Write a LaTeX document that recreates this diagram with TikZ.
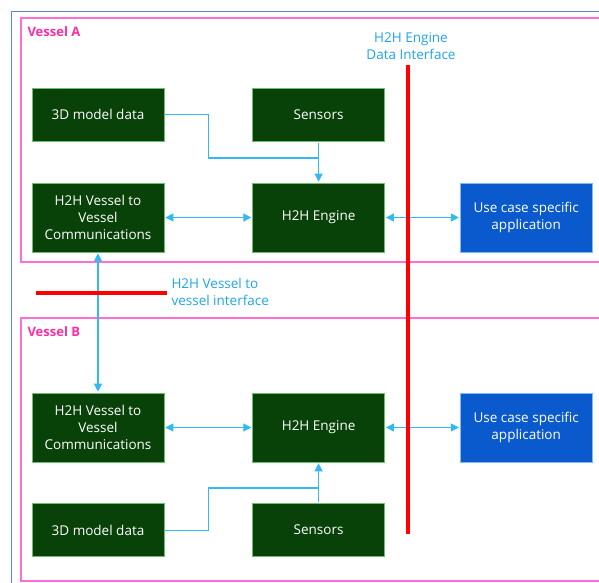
\documentclass[tikz,border=0pt]{standalone}
\usepackage{fontspec}
\setmainfont{Open Sans}
\usetikzlibrary{arrows.meta,positioning}

\definecolor{boxgreen}{RGB}{8,66,8}
\definecolor{edgegreen}{RGB}{110,190,110}
\definecolor{boxblue}{RGB}{10,90,205}
\definecolor{edgeblue}{RGB}{120,190,250}
\definecolor{linkcyan}{RGB}{50,185,245}
\definecolor{labelcyan}{RGB}{30,165,230}
\definecolor{framepink}{RGB}{255,110,215}
\definecolor{vesselpink}{RGB}{255,45,165}
\definecolor{outerblue}{RGB}{95,135,200}

\begin{document}
\begin{tikzpicture}[x=1pt,y=-1pt,>={Triangle[length=8pt,width=8pt]},
  green node/.style={rectangle,fill=boxgreen,draw=edgegreen,line width=0.6pt,text=white,
    minimum width=132pt,minimum height=69pt,align=center,inner sep=2pt,
    font=\fontsize{13.5}{17}\selectfont},
  short node/.style={green node,minimum height=53pt},
  app node/.style={green node,fill=boxblue,draw=edgeblue},
  link/.style={draw=linkcyan,line width=1.1pt,shorten >=1pt,shorten <=1pt},
  iface/.style={draw=red,line width=3.2pt},
  iface label/.style={text=labelcyan,font=\fontsize{13.5}{16.5}\selectfont},
  vessel label/.style={text=vesselpink,anchor=west,font=\fontsize{13}{15}\selectfont\bfseries}]
  \clip (0,0) rectangle (599,582);
  % frames
  \draw[outerblue,line width=1.5pt] (11.5,11.5) rectangle (640,640);
  \draw[framepink,line width=1.2pt] (21,18) rectangle (640,262);
  \draw[framepink,line width=1.2pt] (21,318) rectangle (640,581);
  \node[vessel label] (va) at (24,32) {Vessel A};
  \node[vessel label] (vb) at (24,332) {Vessel B};

  % vessel A
  \node[green node] (vva) at (98,217.5) {H2H Vessel to\\Vessel\\Communications};
  \node[short node] (mda) [above=41pt of vva] {3D model data};
  \node[green node] (enga) [right=88pt of vva] {H2H Engine};
  \node[short node] (sna) [above=41pt of enga] {Sensors};
  \node[app node] (usea) [right=75pt of enga] {Use case specific\\application};

  % vessel B
  \node[green node] (vvb) at (98,427.5) {H2H Vessel to\\Vessel\\Communications};
  \node[short node] (mdb) [below=41pt of vvb] {3D model data};
  \node[green node] (engb) [right=88pt of vvb] {H2H Engine};
  \node[short node] (snb) [below=41pt of engb] {Sensors};
  \node[app node] (useb) [right=75pt of engb] {Use case specific\\application};

  \coordinate (joina) at (318,158);
  \coordinate (joinb) at (318,488);
  \path[every edge/.append style={link,<->}]
    (vva) edge (enga)
    (enga) edge (usea)
    (vva) edge (vvb)
    (vvb) edge (engb)
    (engb) edge (useb);
  \draw[link,->] (sna) -- (enga);
  \draw[link,->] (snb) -- (engb);
  \draw[link,shorten >=0pt] (mda.east) -- ++(44,0) |- (joina);
  \draw[link,shorten >=0pt] (mdb.east) -- ++(44,0) |- (joinb);

  % interfaces
  \node[iface label,align=center] (dil) at (411,46) {H2H Engine\\Data Interface};
  \draw[iface] (408,65) -- (408,534);
  \node[iface label,align=left,anchor=west] (vil) at (168,292) {H2H Vessel to\\vessel interface};
  \draw[iface] (36,293) -- (167,293);
\end{tikzpicture}
\end{document}
